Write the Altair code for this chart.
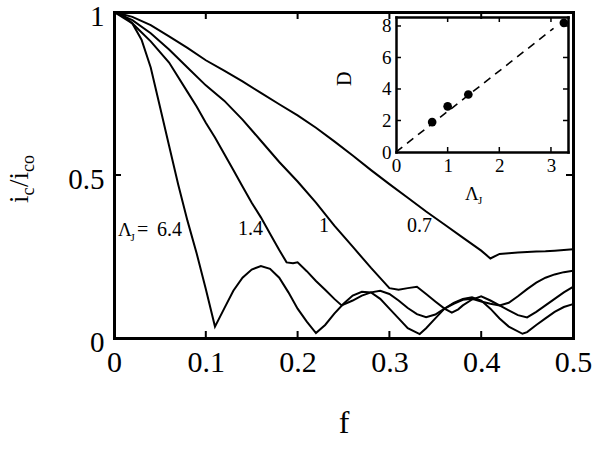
import altair as alt
import pandas as pd

# ---------------- data ----------------
# curve Lambda_J = 6.4
f_64 = [0, 0.01, 0.02, 0.03, 0.04, 0.05, 0.06, 0.07, 0.08, 0.09, 0.10, 0.11, 0.12, 0.13, 0.14,
        0.15, 0.16, 0.17, 0.18, 0.19, 0.20, 0.21, 0.22, 0.23, 0.24, 0.25, 0.26, 0.27, 0.28, 0.29,
        0.30, 0.31, 0.32, 0.333, 0.34, 0.35, 0.36, 0.37, 0.38, 0.39, 0.40, 0.41, 0.42, 0.43,
        0.445, 0.45, 0.46, 0.47, 0.48, 0.49, 0.50]
i_64 = [1, 0.99, 0.965, 0.915, 0.83, 0.71, 0.59, 0.47, 0.36, 0.26, 0.15, 0.035, 0.09, 0.145,
        0.185, 0.21, 0.221, 0.212, 0.185, 0.14, 0.09, 0.05, 0.015, 0.04, 0.075, 0.105, 0.13,
        0.142, 0.14, 0.12, 0.09, 0.06, 0.03, 0.012, 0.03, 0.06, 0.09, 0.108, 0.12, 0.125, 0.115,
        0.09, 0.06, 0.035, 0.013, 0.018, 0.04, 0.06, 0.08, 0.095, 0.104]
# curve Lambda_J = 1.4
f_14 = [0, 0.02, 0.04, 0.06, 0.08, 0.09, 0.10, 0.11, 0.12, 0.13, 0.14, 0.15, 0.16, 0.17, 0.18,
        0.188, 0.195, 0.20, 0.21, 0.22, 0.23, 0.24, 0.248, 0.26, 0.27, 0.28, 0.29, 0.30, 0.31,
        0.32, 0.33, 0.34, 0.35, 0.36, 0.37, 0.38, 0.39, 0.40, 0.41, 0.42, 0.43, 0.44, 0.45, 0.46,
        0.47, 0.48, 0.49, 0.50]
i_14 = [1, 0.965, 0.91, 0.845, 0.755, 0.71, 0.66, 0.615, 0.565, 0.515, 0.465, 0.415, 0.37, 0.32,
        0.27, 0.232, 0.229, 0.232, 0.205, 0.175, 0.148, 0.12, 0.10, 0.115, 0.13, 0.14, 0.145,
        0.135, 0.115, 0.092, 0.073, 0.064, 0.072, 0.09, 0.105, 0.117, 0.12, 0.112, 0.105, 0.10,
        0.108, 0.128, 0.15, 0.17, 0.185, 0.195, 0.202, 0.206]
# curve Lambda_J = 1
f_10 = [0, 0.02, 0.04, 0.06, 0.08, 0.10, 0.12, 0.14, 0.16, 0.18, 0.20, 0.22, 0.24, 0.26, 0.28,
        0.30, 0.31, 0.32, 0.33, 0.34, 0.35, 0.36, 0.368, 0.375, 0.38, 0.39, 0.40, 0.41, 0.42,
        0.43, 0.44, 0.45, 0.46, 0.47, 0.48, 0.49, 0.50]
i_10 = [1, 0.975, 0.935, 0.885, 0.83, 0.775, 0.728, 0.67, 0.605, 0.54, 0.48, 0.415, 0.345, 0.28,
        0.215, 0.153, 0.148, 0.153, 0.157, 0.135, 0.112, 0.09, 0.078, 0.088, 0.10, 0.118, 0.128,
        0.115, 0.10, 0.085, 0.07, 0.063, 0.08, 0.10, 0.12, 0.14, 0.157]
# curve Lambda_J = 0.7
f_07 = [0, 0.02, 0.04, 0.06, 0.08, 0.10, 0.12, 0.14, 0.16, 0.18, 0.20, 0.22, 0.24, 0.26, 0.28,
        0.30, 0.32, 0.34, 0.36, 0.38, 0.40, 0.41, 0.42, 0.43, 0.44, 0.45, 0.46, 0.47, 0.48, 0.49,
        0.50]
i_07 = [1, 0.985, 0.96, 0.925, 0.89, 0.852, 0.82, 0.787, 0.752, 0.717, 0.683, 0.645, 0.603, 0.56,
        0.515, 0.472, 0.43, 0.388, 0.348, 0.308, 0.268, 0.244, 0.258, 0.26, 0.262, 0.264, 0.265,
        0.266, 0.268, 0.27, 0.272]

# inset: D versus Lambda_J
inset_lam = [0.7, 1.0, 1.4, 3.25]
inset_D = [1.9, 2.9, 3.65, 8.2]
fit_lam = [0, 3.05]
fit_D = [0, 7.85]

# tick values / labels
x_labels = [0, 0.1, 0.2, 0.3, 0.4, 0.5]
x_ticks = [0.1, 0.2, 0.3, 0.4]
y_labels = [0, 0.5, 1]
y_ticks = [0.5]
ix_labels = [0, 1, 2, 3]
ix_ticks = [1, 2, 3]
iy_labels = [0, 2, 4, 6, 8]
iy_ticks = [2, 4, 6, 8]

# curve annotations (text, f, i/ico)
curve_text = ["Λ", "J", "=", "6.4", "1.4", "1", "0.7"]
curve_text_f = [0.0044, 0.0180, 0.0250, 0.0468, 0.1351, 0.2233, 0.3192]
curve_text_i = [0.313, 0.298, 0.313, 0.313, 0.316, 0.325, 0.325]
curve_text_size = [19, 11, 20, 20, 20, 20, 20]

# ---------------- layout ----------------
W, H = 459, 326
FONT = "Liberation Serif"
TICK_COLOR = "black"

rows = []
for name, fs, ys in [("6.4", f_64, i_64), ("1.4", f_14, i_14), ("1", f_10, i_10), ("0.7", f_07, i_07)]:
    for a, b in zip(fs, ys):
        rows.append({"series": name, "f": a, "i": b})
curves = pd.DataFrame(rows)
pts = pd.DataFrame({"lam": inset_lam, "D": inset_D})
fit = pd.DataFrame({"lam": fit_lam, "D": fit_D})
ann = pd.DataFrame({"t": curve_text, "f": curve_text_f, "i": curve_text_i, "s": curve_text_size})

MX = alt.Scale(domain=[0, 0.5], nice=False, zero=False)
MY = alt.Scale(domain=[0, 1], nice=False, zero=False)
IX = alt.Scale(domain=[0, 3.33], range=[282, 454], nice=False, zero=False)
IY = alt.Scale(domain=[0, 8.57], range=[140, 5], nice=False, zero=False)

common = dict(grid=False, title=None, domainColor="black", labelColor="black",
              labelFont=FONT, domainCap="square")


def frame_axis(orient, offset, dwidth):
    return alt.Axis(orient=orient, offset=offset, labels=False, domain=True,
                    domainWidth=dwidth, ticks=False, **common)


# main curves with labelled axes
main_a = alt.Chart(curves).mark_line(color="black", strokeWidth=2).encode(
    x=alt.X("f:Q", scale=MX, axis=alt.Axis(
        orient="bottom", values=x_labels, format="~g", ticks=False, domain=True,
        domainWidth=3, labelFontSize=30, labelPadding=9, labelFlush=False, labelOverlap=False,
        grid=False, domainColor="black", labelColor="black", labelFont=FONT, domainCap="square",
        title="f", titleFont=FONT, titleFontSize=32, titleFontWeight="normal",
        titleColor="black", titlePadding=30)),
    y=alt.Y("i:Q", scale=MY, axis=alt.Axis(
        orient="left", values=y_labels, format="~g", ticks=False, domain=True, domainWidth=3,
        labelFontSize=29, labelPadding=10, labelOffset=4, labelFlush=False,
        labelOverlap=False, **common)),
    detail="series:N",
)
main_frame = alt.Chart(curves).mark_line(strokeOpacity=0).encode(
    x=alt.X("f:Q", scale=MX, axis=frame_axis("bottom", -H, 3)),
    y=alt.Y("i:Q", scale=MY, axis=frame_axis("left", -W, 3)),
    detail="series:N",
)

# inward ticks of the main frame (short rules; positions from the scales)
mxt = pd.DataFrame({"v": x_ticks})
myt = pd.DataFrame({"v": y_ticks})
TL = 7


def vrule(df, scale, y0, y1, w):
    return alt.Chart(df).mark_rule(color=TICK_COLOR, strokeWidth=w).encode(
        x=alt.X("v:Q", scale=scale, axis=None), y=alt.value(y0), y2=alt.value(y1))


def hrule(df, scale, x0, x1, w):
    return alt.Chart(df).mark_rule(color=TICK_COLOR, strokeWidth=w).encode(
        y=alt.Y("v:Q", scale=scale, axis=None), x=alt.value(x0), x2=alt.value(x1))


main_ticks = [
    vrule(mxt, MX, H, H - TL, 2),
    vrule(mxt, MX, 0, TL, 2),
    hrule(myt, MY, 0, TL, 2),
    hrule(myt, MY, W, W - TL, 2),
]

labels = alt.Chart(ann).mark_text(font=FONT, align="left", baseline="alphabetic",
                                  color="black").encode(
    x=alt.X("f:Q", scale=MX, axis=None),
    y=alt.Y("i:Q", scale=MY, axis=None),
    text="t:N",
    size=alt.Size("s:Q", scale=None, legend=None),
)

# inset
ins_a = alt.Chart(pts).mark_circle(color="black", opacity=1, size=75).encode(
    x=alt.X("lam:Q", scale=IX, axis=alt.Axis(
        orient="bottom", offset=-186, values=ix_labels, format="~g", ticks=False, domain=True,
        domainWidth=2.5, labelFontSize=19, labelPadding=4, labelFlush=False,
        labelOverlap=False, **common)),
    y=alt.Y("D:Q", scale=IY, axis=alt.Axis(
        orient="left", offset=-282, values=iy_labels, format="~g", ticks=False, domain=True,
        domainWidth=2.5, labelFontSize=19, labelPadding=5, labelFlush=False,
        labelOverlap=False, **common)),
)
ins_frame = alt.Chart(pts).mark_circle(opacity=0).encode(
    x=alt.X("lam:Q", scale=IX, axis=frame_axis("bottom", -321, 2.5)),
    y=alt.Y("D:Q", scale=IY, axis=frame_axis("left", -454, 2.5)),
)
ixt = pd.DataFrame({"v": ix_ticks})
iyt = pd.DataFrame({"v": iy_ticks})
IT = 5
ins_ticks = [
    vrule(ixt, IX, 140, 140 - IT, 1.5),
    vrule(ixt, IX, 5, 5 + IT, 1.5),
    hrule(iyt, IY, 282, 282 + IT, 1.5),
    hrule(iyt, IY, 454, 454 - IT, 1.5),
]
ins_fit = alt.Chart(fit).mark_line(color="black", strokeWidth=1.6, strokeDash=[8, 6]).encode(
    x=alt.X("lam:Q", scale=IX, axis=None),
    y=alt.Y("D:Q", scale=IY, axis=None),
)

# axis titles drawn as text (subscripts)
ttl = pd.DataFrame({
    "t": ["i", "c", "/i", "co", "D", "Λ", "J"],
    "px": [-86, -80, -86, -80, 237, 351, 364],
    "py": [191, 183.5, 175, 160, 74, 188, 192],
    "s": [27, 18, 27, 18, 20, 19, 11],
    "a": [270, 270, 270, 270, 270, 0, 0],
})
titles = alt.Chart(ttl).mark_text(font=FONT, align="left", baseline="alphabetic",
                                  color="black").encode(
    x=alt.X("px:Q", scale=None),
    y=alt.Y("py:Q", scale=None),
    text="t:N",
    size=alt.Size("s:Q", scale=None, legend=None),
    angle=alt.Angle("a:Q", scale=None),
)

chart = alt.layer(main_a, main_frame, *main_ticks, labels, ins_fit, ins_a, ins_frame,
                  *ins_ticks, titles).resolve_scale(
    x="independent", y="independent"
).properties(
    width=W, height=H,
    padding={"left": 114, "top": 12, "right": 21, "bottom": 114},
    autosize=alt.AutoSizeParams(type="none"),
    background="white",
).configure_view(stroke=None)

chart.save("out.html", embed_options={"renderer": "svg", "actions": False})
